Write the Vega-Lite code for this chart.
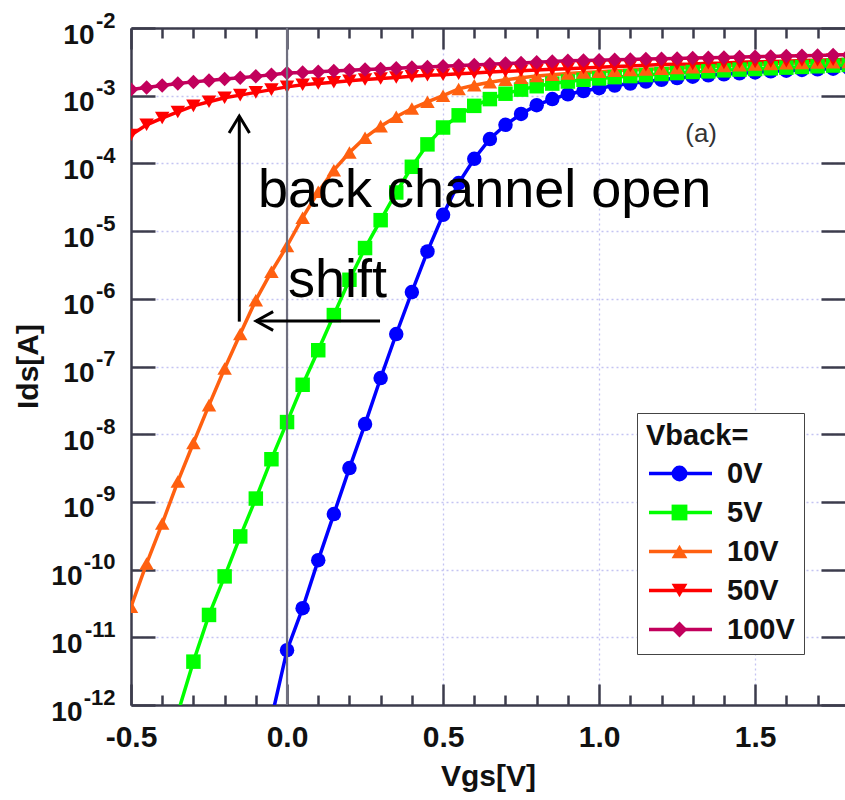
{
"$schema":"https://vega.github.io/schema/vega-lite/v6.json",
"width":714,"height":677,
"autosize":{"type":"none"},
"padding":{"left":131,"top":28,"right":0,"bottom":95},
"background":"white",
"config":{"font":"Liberation Sans","view":{"stroke":null},
"axis":{"domainColor":"#3c3c4c","domainWidth":2.5,"tickColor":"#3c3c4c","tickWidth":2.5,"labelFont":"Liberation Sans","labelFontWeight":"bold","labelColor":"#111","titleFont":"Liberation Sans","titleFontWeight":"bold","titleColor":"#111","gridColor":"#c4c4f2","gridDash":[2,3],"gridWidth":1.3,"labelOverlap":false,"labelFlush":false}},
"datasets":{
"curves":[
{"Vgs":-0.05,"Ids":6.31e-13,"Vback":"0V"},{"Vgs":0,"Ids":6.46e-12,"Vback":"0V"},{"Vgs":0.05,"Ids":2.69e-11,"Vback":"0V"},{"Vgs":0.1,"Ids":1.38e-10,"Vback":"0V"},{"Vgs":0.15,"Ids":6.61e-10,"Vback":"0V"},{"Vgs":0.2,"Ids":3.16e-9,"Vback":"0V"},{"Vgs":0.25,"Ids":1.41e-8,"Vback":"0V"},{"Vgs":0.3,"Ids":6.76e-8,"Vback":"0V"},{"Vgs":0.35,"Ids":3.02e-7,"Vback":"0V"},{"Vgs":0.4,"Ids":1.26e-6,"Vback":"0V"},{"Vgs":0.45,"Ids":5.01e-6,"Vback":"0V"},{"Vgs":0.5,"Ids":1.74e-5,"Vback":"0V"},{"Vgs":0.55,"Ids":5.13e-5,"Vback":"0V"},{"Vgs":0.6,"Ids":1.17e-4,"Vback":"0V"},{"Vgs":0.65,"Ids":2.29e-4,"Vback":"0V"},{"Vgs":0.7,"Ids":3.72e-4,"Vback":"0V"},{"Vgs":0.75,"Ids":5.37e-4,"Vback":"0V"},{"Vgs":0.8,"Ids":7.24e-4,"Vback":"0V"},{"Vgs":0.85,"Ids":8.91e-4,"Vback":"0V"},{"Vgs":0.9,"Ids":1.05e-3,"Vback":"0V"},{"Vgs":0.95,"Ids":1.17e-3,"Vback":"0V"},{"Vgs":1.0,"Ids":1.29e-3,"Vback":"0V"},{"Vgs":1.05,"Ids":1.41e-3,"Vback":"0V"},{"Vgs":1.1,"Ids":1.51e-3,"Vback":"0V"},{"Vgs":1.15,"Ids":1.62e-3,"Vback":"0V"},{"Vgs":1.2,"Ids":1.72e-3,"Vback":"0V"},{"Vgs":1.25,"Ids":1.82e-3,"Vback":"0V"},{"Vgs":1.3,"Ids":1.91e-3,"Vback":"0V"},{"Vgs":1.35,"Ids":2.0e-3,"Vback":"0V"},{"Vgs":1.4,"Ids":2.07e-3,"Vback":"0V"},{"Vgs":1.45,"Ids":2.14e-3,"Vback":"0V"},{"Vgs":1.5,"Ids":2.21e-3,"Vback":"0V"},{"Vgs":1.55,"Ids":2.29e-3,"Vback":"0V"},{"Vgs":1.6,"Ids":2.34e-3,"Vback":"0V"},{"Vgs":1.65,"Ids":2.4e-3,"Vback":"0V"},{"Vgs":1.7,"Ids":2.45e-3,"Vback":"0V"},{"Vgs":1.75,"Ids":2.51e-3,"Vback":"0V"},{"Vgs":1.8,"Ids":2.57e-3,"Vback":"0V"},
{"Vgs":-0.35,"Ids":7.59e-13,"Vback":"5V"},{"Vgs":-0.3,"Ids":4.37e-12,"Vback":"5V"},{"Vgs":-0.25,"Ids":2.14e-11,"Vback":"5V"},{"Vgs":-0.2,"Ids":7.94e-11,"Vback":"5V"},{"Vgs":-0.15,"Ids":3.09e-10,"Vback":"5V"},{"Vgs":-0.1,"Ids":1.12e-9,"Vback":"5V"},{"Vgs":-0.05,"Ids":4.27e-9,"Vback":"5V"},{"Vgs":0,"Ids":1.51e-8,"Vback":"5V"},{"Vgs":0.05,"Ids":5.37e-8,"Vback":"5V"},{"Vgs":0.1,"Ids":1.74e-7,"Vback":"5V"},{"Vgs":0.15,"Ids":5.75e-7,"Vback":"5V"},{"Vgs":0.2,"Ids":1.91e-6,"Vback":"5V"},{"Vgs":0.25,"Ids":5.62e-6,"Vback":"5V"},{"Vgs":0.3,"Ids":1.45e-5,"Vback":"5V"},{"Vgs":0.35,"Ids":3.72e-5,"Vback":"5V"},{"Vgs":0.4,"Ids":8.91e-5,"Vback":"5V"},{"Vgs":0.45,"Ids":1.91e-4,"Vback":"5V"},{"Vgs":0.5,"Ids":3.39e-4,"Vback":"5V"},{"Vgs":0.55,"Ids":5.13e-4,"Vback":"5V"},{"Vgs":0.6,"Ids":7.08e-4,"Vback":"5V"},{"Vgs":0.65,"Ids":8.91e-4,"Vback":"5V"},{"Vgs":0.7,"Ids":1.07e-3,"Vback":"5V"},{"Vgs":0.75,"Ids":1.23e-3,"Vback":"5V"},{"Vgs":0.8,"Ids":1.38e-3,"Vback":"5V"},{"Vgs":0.85,"Ids":1.51e-3,"Vback":"5V"},{"Vgs":0.9,"Ids":1.62e-3,"Vback":"5V"},{"Vgs":0.95,"Ids":1.72e-3,"Vback":"5V"},{"Vgs":1.0,"Ids":1.8e-3,"Vback":"5V"},{"Vgs":1.05,"Ids":1.88e-3,"Vback":"5V"},{"Vgs":1.1,"Ids":1.95e-3,"Vback":"5V"},{"Vgs":1.15,"Ids":2.02e-3,"Vback":"5V"},{"Vgs":1.2,"Ids":2.09e-3,"Vback":"5V"},{"Vgs":1.25,"Ids":2.16e-3,"Vback":"5V"},{"Vgs":1.3,"Ids":2.24e-3,"Vback":"5V"},{"Vgs":1.35,"Ids":2.29e-3,"Vback":"5V"},{"Vgs":1.4,"Ids":2.37e-3,"Vback":"5V"},{"Vgs":1.45,"Ids":2.43e-3,"Vback":"5V"},{"Vgs":1.5,"Ids":2.48e-3,"Vback":"5V"},{"Vgs":1.55,"Ids":2.54e-3,"Vback":"5V"},{"Vgs":1.6,"Ids":2.6e-3,"Vback":"5V"},{"Vgs":1.65,"Ids":2.66e-3,"Vback":"5V"},{"Vgs":1.7,"Ids":2.72e-3,"Vback":"5V"},{"Vgs":1.75,"Ids":2.79e-3,"Vback":"5V"},{"Vgs":1.8,"Ids":2.85e-3,"Vback":"5V"},
{"Vgs":-0.5,"Ids":2.82e-11,"Vback":"10V"},{"Vgs":-0.45,"Ids":1.23e-10,"Vback":"10V"},{"Vgs":-0.4,"Ids":4.79e-10,"Vback":"10V"},{"Vgs":-0.35,"Ids":2.0e-9,"Vback":"10V"},{"Vgs":-0.3,"Ids":7.41e-9,"Vback":"10V"},{"Vgs":-0.25,"Ids":2.69e-8,"Vback":"10V"},{"Vgs":-0.2,"Ids":9.33e-8,"Vback":"10V"},{"Vgs":-0.15,"Ids":3.02e-7,"Vback":"10V"},{"Vgs":-0.1,"Ids":9.55e-7,"Vback":"10V"},{"Vgs":-0.05,"Ids":2.51e-6,"Vback":"10V"},{"Vgs":0,"Ids":6.03e-6,"Vback":"10V"},{"Vgs":0.05,"Ids":1.58e-5,"Vback":"10V"},{"Vgs":0.1,"Ids":3.8e-5,"Vback":"10V"},{"Vgs":0.15,"Ids":7.94e-5,"Vback":"10V"},{"Vgs":0.2,"Ids":1.45e-4,"Vback":"10V"},{"Vgs":0.25,"Ids":2.4e-4,"Vback":"10V"},{"Vgs":0.3,"Ids":3.55e-4,"Vback":"10V"},{"Vgs":0.35,"Ids":4.9e-4,"Vback":"10V"},{"Vgs":0.4,"Ids":6.46e-4,"Vback":"10V"},{"Vgs":0.45,"Ids":8.13e-4,"Vback":"10V"},{"Vgs":0.5,"Ids":1.0e-3,"Vback":"10V"},{"Vgs":0.55,"Ids":1.26e-3,"Vback":"10V"},{"Vgs":0.6,"Ids":1.43e-3,"Vback":"10V"},{"Vgs":0.65,"Ids":1.58e-3,"Vback":"10V"},{"Vgs":0.7,"Ids":1.72e-3,"Vback":"10V"},{"Vgs":0.75,"Ids":1.84e-3,"Vback":"10V"},{"Vgs":0.8,"Ids":1.95e-3,"Vback":"10V"},{"Vgs":0.85,"Ids":2.04e-3,"Vback":"10V"},{"Vgs":0.9,"Ids":2.13e-3,"Vback":"10V"},{"Vgs":0.95,"Ids":2.2e-3,"Vback":"10V"},{"Vgs":1.0,"Ids":2.26e-3,"Vback":"10V"},{"Vgs":1.05,"Ids":2.34e-3,"Vback":"10V"},{"Vgs":1.1,"Ids":2.4e-3,"Vback":"10V"},{"Vgs":1.15,"Ids":2.45e-3,"Vback":"10V"},{"Vgs":1.2,"Ids":2.51e-3,"Vback":"10V"},{"Vgs":1.25,"Ids":2.57e-3,"Vback":"10V"},{"Vgs":1.3,"Ids":2.63e-3,"Vback":"10V"},{"Vgs":1.35,"Ids":2.69e-3,"Vback":"10V"},{"Vgs":1.4,"Ids":2.75e-3,"Vback":"10V"},{"Vgs":1.45,"Ids":2.82e-3,"Vback":"10V"},{"Vgs":1.5,"Ids":2.88e-3,"Vback":"10V"},{"Vgs":1.55,"Ids":2.95e-3,"Vback":"10V"},{"Vgs":1.6,"Ids":3.02e-3,"Vback":"10V"},{"Vgs":1.65,"Ids":3.05e-3,"Vback":"10V"},{"Vgs":1.7,"Ids":3.09e-3,"Vback":"10V"},{"Vgs":1.75,"Ids":3.13e-3,"Vback":"10V"},{"Vgs":1.8,"Ids":3.16e-3,"Vback":"10V"},
{"Vgs":-0.5,"Ids":2.63e-4,"Vback":"50V"},{"Vgs":-0.45,"Ids":3.72e-4,"Vback":"50V"},{"Vgs":-0.4,"Ids":4.68e-4,"Vback":"50V"},{"Vgs":-0.35,"Ids":5.75e-4,"Vback":"50V"},{"Vgs":-0.3,"Ids":7.08e-4,"Vback":"50V"},{"Vgs":-0.25,"Ids":8.13e-4,"Vback":"50V"},{"Vgs":-0.2,"Ids":9.33e-4,"Vback":"50V"},{"Vgs":-0.15,"Ids":1.02e-3,"Vback":"50V"},{"Vgs":-0.1,"Ids":1.12e-3,"Vback":"50V"},{"Vgs":-0.05,"Ids":1.23e-3,"Vback":"50V"},{"Vgs":0,"Ids":1.35e-3,"Vback":"50V"},{"Vgs":0.05,"Ids":1.45e-3,"Vback":"50V"},{"Vgs":0.1,"Ids":1.51e-3,"Vback":"50V"},{"Vgs":0.15,"Ids":1.58e-3,"Vback":"50V"},{"Vgs":0.2,"Ids":1.66e-3,"Vback":"50V"},{"Vgs":0.25,"Ids":1.74e-3,"Vback":"50V"},{"Vgs":0.3,"Ids":1.8e-3,"Vback":"50V"},{"Vgs":0.35,"Ids":1.86e-3,"Vback":"50V"},{"Vgs":0.4,"Ids":1.93e-3,"Vback":"50V"},{"Vgs":0.45,"Ids":2.0e-3,"Vback":"50V"},{"Vgs":0.5,"Ids":2.04e-3,"Vback":"50V"},{"Vgs":0.55,"Ids":2.11e-3,"Vback":"50V"},{"Vgs":0.6,"Ids":2.16e-3,"Vback":"50V"},{"Vgs":0.65,"Ids":2.24e-3,"Vback":"50V"},{"Vgs":0.7,"Ids":2.29e-3,"Vback":"50V"},{"Vgs":0.75,"Ids":2.34e-3,"Vback":"50V"},{"Vgs":0.8,"Ids":2.4e-3,"Vback":"50V"},{"Vgs":0.85,"Ids":2.45e-3,"Vback":"50V"},{"Vgs":0.9,"Ids":2.51e-3,"Vback":"50V"},{"Vgs":0.95,"Ids":2.57e-3,"Vback":"50V"},{"Vgs":1.0,"Ids":2.63e-3,"Vback":"50V"},{"Vgs":1.05,"Ids":2.69e-3,"Vback":"50V"},{"Vgs":1.1,"Ids":2.75e-3,"Vback":"50V"},{"Vgs":1.15,"Ids":2.82e-3,"Vback":"50V"},{"Vgs":1.2,"Ids":2.88e-3,"Vback":"50V"},{"Vgs":1.25,"Ids":2.92e-3,"Vback":"50V"},{"Vgs":1.3,"Ids":2.95e-3,"Vback":"50V"},{"Vgs":1.35,"Ids":3.02e-3,"Vback":"50V"},{"Vgs":1.4,"Ids":3.05e-3,"Vback":"50V"},{"Vgs":1.45,"Ids":3.13e-3,"Vback":"50V"},{"Vgs":1.5,"Ids":3.16e-3,"Vback":"50V"},{"Vgs":1.55,"Ids":3.2e-3,"Vback":"50V"},{"Vgs":1.6,"Ids":3.24e-3,"Vback":"50V"},{"Vgs":1.65,"Ids":3.31e-3,"Vback":"50V"},{"Vgs":1.7,"Ids":3.35e-3,"Vback":"50V"},{"Vgs":1.75,"Ids":3.39e-3,"Vback":"50V"},{"Vgs":1.8,"Ids":3.43e-3,"Vback":"50V"},
{"Vgs":-0.5,"Ids":1.23e-3,"Vback":"100V"},{"Vgs":-0.45,"Ids":1.32e-3,"Vback":"100V"},{"Vgs":-0.4,"Ids":1.41e-3,"Vback":"100V"},{"Vgs":-0.35,"Ids":1.51e-3,"Vback":"100V"},{"Vgs":-0.3,"Ids":1.6e-3,"Vback":"100V"},{"Vgs":-0.25,"Ids":1.68e-3,"Vback":"100V"},{"Vgs":-0.2,"Ids":1.76e-3,"Vback":"100V"},{"Vgs":-0.15,"Ids":1.84e-3,"Vback":"100V"},{"Vgs":-0.1,"Ids":1.93e-3,"Vback":"100V"},{"Vgs":-0.05,"Ids":2.04e-3,"Vback":"100V"},{"Vgs":0,"Ids":2.16e-3,"Vback":"100V"},{"Vgs":0.05,"Ids":2.21e-3,"Vback":"100V"},{"Vgs":0.1,"Ids":2.26e-3,"Vback":"100V"},{"Vgs":0.15,"Ids":2.32e-3,"Vback":"100V"},{"Vgs":0.2,"Ids":2.37e-3,"Vback":"100V"},{"Vgs":0.25,"Ids":2.43e-3,"Vback":"100V"},{"Vgs":0.3,"Ids":2.48e-3,"Vback":"100V"},{"Vgs":0.35,"Ids":2.54e-3,"Vback":"100V"},{"Vgs":0.4,"Ids":2.6e-3,"Vback":"100V"},{"Vgs":0.45,"Ids":2.66e-3,"Vback":"100V"},{"Vgs":0.5,"Ids":2.72e-3,"Vback":"100V"},{"Vgs":0.55,"Ids":2.79e-3,"Vback":"100V"},{"Vgs":0.6,"Ids":2.85e-3,"Vback":"100V"},{"Vgs":0.65,"Ids":2.92e-3,"Vback":"100V"},{"Vgs":0.7,"Ids":2.99e-3,"Vback":"100V"},{"Vgs":0.75,"Ids":3.05e-3,"Vback":"100V"},{"Vgs":0.8,"Ids":3.13e-3,"Vback":"100V"},{"Vgs":0.85,"Ids":3.2e-3,"Vback":"100V"},{"Vgs":0.9,"Ids":3.27e-3,"Vback":"100V"},{"Vgs":0.95,"Ids":3.31e-3,"Vback":"100V"},{"Vgs":1.0,"Ids":3.35e-3,"Vback":"100V"},{"Vgs":1.05,"Ids":3.39e-3,"Vback":"100V"},{"Vgs":1.1,"Ids":3.43e-3,"Vback":"100V"},{"Vgs":1.15,"Ids":3.47e-3,"Vback":"100V"},{"Vgs":1.2,"Ids":3.51e-3,"Vback":"100V"},{"Vgs":1.25,"Ids":3.55e-3,"Vback":"100V"},{"Vgs":1.3,"Ids":3.59e-3,"Vback":"100V"},{"Vgs":1.35,"Ids":3.63e-3,"Vback":"100V"},{"Vgs":1.4,"Ids":3.67e-3,"Vback":"100V"},{"Vgs":1.45,"Ids":3.72e-3,"Vback":"100V"},{"Vgs":1.5,"Ids":3.76e-3,"Vback":"100V"},{"Vgs":1.55,"Ids":3.8e-3,"Vback":"100V"},{"Vgs":1.6,"Ids":3.85e-3,"Vback":"100V"},{"Vgs":1.65,"Ids":3.89e-3,"Vback":"100V"},{"Vgs":1.7,"Ids":3.94e-3,"Vback":"100V"},{"Vgs":1.75,"Ids":3.98e-3,"Vback":"100V"},{"Vgs":1.8,"Ids":4.03e-3,"Vback":"100V"}
],
"notes":[{"Vgs":-0.093,"Ids":2.28e-5,"label":"back channel open"},{"Vgs":0.003,"Ids":1.07e-6,"label":"shift"}],
"arrows":[{"Vgs":-0.153,"Ids":4.6e-7,"Vgs2":-0.153,"Ids2":5.0e-4},{"Vgs":0.298,"Ids":4.7e-7,"Vgs2":-0.099,"Ids2":4.7e-7}],
"headUp":[{"Vgs":-0.153,"Ids":5.0e-4}],
"headLeft":[{"Vgs":-0.099,"Ids":4.7e-7}],
"panel":[{"Vgs":1.276,"Ids":2.08e-4,"label":"(a)"}]
},
"resolve":{"axis":{"x":"independent","y":"independent"},"legend":{"color":"independent","shape":"independent"}},
"layer":[
{"data":{"name":"curves"},
 "mark":{"type":"line","strokeWidth":3.5,"clip":true},
 "encoding":{
  "x":{"field":"Vgs","type":"quantitative","scale":{"domain":[-0.5,1.788],"nice":false,"zero":false},
   "axis":{"orient":"bottom","values":[-0.5,0,0.5,1,1.5],"labelExpr":"datum.value < 0 ? '-' + format(-datum.value, '.1f') : format(datum.value, '.1f')","ticks":false,"domain":false,"grid":true,"labelFontSize":30,"labelPadding":17,"labelBaseline":"top","title":"Vgs[V]","titleFontSize":30,"titleX":357,"titleY":80,"titleBaseline":"alphabetic","titleAlign":"center","titleAnchor":null}},
  "y":{"field":"Ids","type":"quantitative","scale":{"type":"log","domain":[1e-12,1e-2],"nice":false},
   "axis":{"orient":"left","values":[1e-9,1e-8,1e-7,1e-6,1e-5,1e-4,1e-3,1e-2],"labelExpr":"'10'","ticks":false,"domain":false,"grid":false,"labelFontSize":28,"labelPadding":37,"labelAlign":"right","labelBaseline":"alphabetic","labelOffset":15,
    "title":"Ids[A]","titleFontSize":30,"titleX":-103,"titleY":338,"titleAngle":-90,"titleAlign":"center","titleBaseline":"middle"}},
  "color":{"field":"Vback","type":"nominal","scale":{"domain":["0V","5V","10V","50V","100V"],"range":["#0000ff","#00ff00","#ff6010","#ff0000","#c2005c"]},
   "legend":{"orient":"none","legendX":506,"legendY":385,"title":"Vback=","titleFont":"Liberation Sans","titleFontSize":29,"titleFontWeight":"bold","titleColor":"#111","labelFont":"Liberation Sans","labelFontSize":29,"labelFontWeight":"bold","labelColor":"#111","padding":9,"strokeColor":"#444","fillColor":"white","symbolType":"M-4.5,0H4.5","symbolSize":196,"symbolStrokeWidth":3.5,"symbolOffset":20,"labelOffset":32,"rowPadding":9,"titlePadding":8}}
 }},
{"data":{"name":"curves"},
 "mark":{"type":"point","filled":true,"size":210,"opacity":1,"clip":true},
 "encoding":{
  "x":{"field":"Vgs","type":"quantitative","axis":{"orient":"bottom","values":[-0.4,-0.3,-0.2,-0.1,0.1,0.2,0.3,0.4,0.6,0.7,0.8,0.9,1.1,1.2,1.3,1.4,1.6,1.7],"labels":false,"domain":false,"grid":false,"tickSize":-10,"title":null}},
  "y":{"field":"Ids","type":"quantitative","axis":{"orient":"left","values":[1e-12,1e-11,1e-10,1e-9,1e-8,1e-7,1e-6,1e-5,1e-4,1e-3,1e-2],"labelExpr":"'-' + round(-log(datum.value)/LN10)","ticks":false,"domain":false,"grid":true,"labelFontSize":22,"labelPadding":16,"labelAlign":"right","labelBaseline":"alphabetic","labelOffset":-1,"title":null}},
  "color":{"field":"Vback","type":"nominal","scale":{"domain":["0V","5V","10V","50V","100V"],"range":["#0000ff","#00ff00","#ff6010","#ff0000","#c2005c"]},
   "legend":{"orient":"none","legendX":506,"legendY":385,"title":"Vback=","titleFont":"Liberation Sans","titleFontSize":29,"titleFontWeight":"bold","titleColor":"transparent","labelFont":"Liberation Sans","labelFontSize":29,"labelFontWeight":"bold","labelColor":"transparent","padding":9,"strokeColor":"transparent","fillColor":"transparent","symbolSize":250,"symbolStrokeWidth":0,"symbolOffset":19,"labelOffset":32,"rowPadding":9,"titlePadding":8}},
  "shape":{"field":"Vback","type":"nominal","scale":{"domain":["0V","5V","10V","50V","100V"],"range":["circle","square","triangle-up","triangle-down","diamond"]},"legend":null}
 }},
{"data":{"values":[{"ref":0}]},
 "mark":{"type":"rule","color":"#707080","strokeWidth":2.2},
 "encoding":{"x":{"field":"ref","type":"quantitative","axis":null}}},
{"data":{"name":"notes"},
 "mark":{"type":"text","fontSize":54,"align":"left","baseline":"alphabetic","color":"black","font":"Liberation Sans"},
 "encoding":{
  "x":{"field":"Vgs","type":"quantitative","axis":{"orient":"top","values":[-0.5,0,0.5,1,1.5],"labels":false,"domain":true,"grid":false,"tickSize":-21,"title":null}},
  "y":{"field":"Ids","type":"quantitative","axis":{"orient":"right","values":[1e-12,1e-11,1e-10,1e-9,1e-8,1e-7,1e-6,1e-5,1e-4,1e-3,1e-2],"labels":false,"domain":false,"grid":false,"tickSize":-24,"title":null}},
  "text":{"field":"label"}}},
{"data":{"name":"arrows"},
 "mark":{"type":"rule","color":"black","strokeWidth":3},
 "encoding":{
  "x":{"field":"Vgs","type":"quantitative","axis":{"orient":"top","values":[-0.4,-0.3,-0.2,-0.1,0.1,0.2,0.3,0.4,0.6,0.7,0.8,0.9,1.1,1.2,1.3,1.4,1.6,1.7],"labels":false,"domain":false,"grid":false,"tickSize":-10,"title":null}},
  "x2":{"field":"Vgs2"},
  "y":{"field":"Ids","type":"quantitative","axis":{"orient":"left","values":[1e-12,1e-11,1e-10,1e-9,1e-8,1e-7,1e-6,1e-5,1e-4,1e-3,1e-2],"labels":false,"domain":true,"grid":false,"tickSize":-24,"title":null}},
  "y2":{"field":"Ids2"}}},
{"data":{"name":"headUp"},
 "mark":{"type":"point","shape":"M-0.6,1L0,0L0.6,1","filled":false,"color":"black","strokeWidth":3,"size":1156,"opacity":1},
 "encoding":{
  "x":{"field":"Vgs","type":"quantitative","axis":{"orient":"bottom","values":[-0.5,0,0.5,1,1.5],"labels":false,"domain":true,"grid":false,"tickSize":-21,"title":null}},
  "y":{"field":"Ids","type":"quantitative","axis":{"orient":"left","values":[1e-12,1e-11,1e-10],"labelExpr":"'10'","ticks":false,"domain":false,"grid":false,"labelFontSize":28,"labelPadding":49,"labelAlign":"right","labelBaseline":"alphabetic","labelOffset":15,"title":null}}}},
{"data":{"name":"headLeft"},
 "mark":{"type":"point","shape":"M1,-0.55L0,0L1,0.55","filled":false,"color":"black","strokeWidth":3,"size":1156,"opacity":1},
 "encoding":{
  "x":{"field":"Vgs","type":"quantitative","axis":null},
  "y":{"field":"Ids","type":"quantitative","axis":null}}},
{"data":{"name":"panel"},
 "mark":{"type":"text","fontSize":26,"align":"left","baseline":"alphabetic","color":"#333","font":"Liberation Sans"},
 "encoding":{
  "x":{"field":"Vgs","type":"quantitative","axis":null},
  "y":{"field":"Ids","type":"quantitative","axis":null},
  "text":{"field":"label"}}}
]
}
